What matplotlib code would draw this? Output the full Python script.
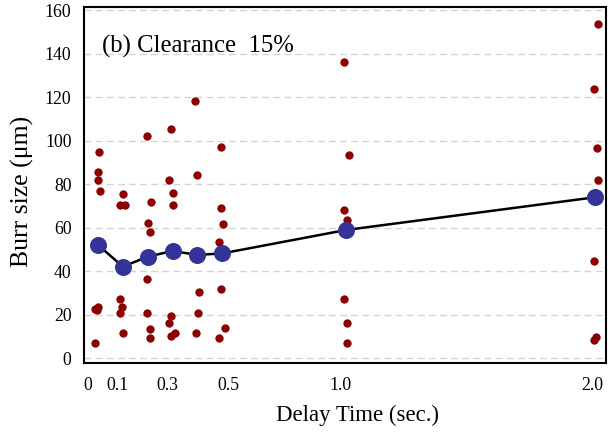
import matplotlib
matplotlib.use("Agg")
import matplotlib.pyplot as plt

# Mean burr size for each delay time
delay_times = [0.0, 0.1, 0.2, 0.3, 0.4, 0.5, 1.0, 2.0]
mean_burr = [52, 42, 46.6, 49.2, 47.4, 48.1, 58.9, 73.9]

# Individual measurements (delay time with a small spread, burr size)
sample_x = [
    0.003, 0.001, 0.001, 0.008, -0.012, -0.004, 0.0, -0.012,
    0.102, 0.088, 0.108, 0.088, 0.096, 0.088, 0.102,
    0.196, 0.212, 0.203, 0.209, 0.196, 0.196, 0.209, 0.209,
    0.294, 0.287, 0.301, 0.303, 0.294, 0.287, 0.310, 0.294,
    0.390, 0.397, 0.408, 0.404, 0.394,
    0.494, 0.494, 0.504, 0.488, 0.494, 0.511, 0.488,
    0.991, 1.010, 0.991, 1.003, 0.991, 1.003, 1.003,
    2.012, 1.998, 2.007, 2.012, 1.998, 2.005, 1.998,
]
sample_burr = [
    94.9, 85.7, 81.8, 76.9, 22.4, 22.0, 23.4, 6.7,
    75.4, 70.3, 70.3, 27.1, 23.6, 20.5, 11.6,
    102.0, 71.9, 62.2, 58.1, 36.5, 20.5, 13.3, 9.0,
    105.1, 81.8, 76.1, 70.3, 19.3, 16.2, 11.6, 10.1,
    118.3, 84.1, 30.2, 20.5, 11.6,
    97.2, 69.1, 61.5, 53.5, 31.6, 13.9, 9.0,
    136.2, 93.3, 68.0, 63.4, 27.0, 16.0, 7.0,
    153.7, 123.5, 96.4, 81.8, 44.7, 9.8, 8.3,
]

# Tick labels sit where the original figure put them
xtick_pos = [-0.040, 0.080, 0.278, 0.523, 0.977, 1.988]
xtick_labels = ["0", "0.1", "0.3", "0.5", "1.0", "2.0"]
ytick_vals = list(range(0, 161, 20))

plt.rcParams["font.family"] = ["Liberation Serif", "DejaVu Serif"]

fig = plt.figure(figsize=(6.11, 4.32), dpi=100)
ax = fig.add_axes([0.1375, 0.1597, 0.8543, 0.8241])

# Horizontal dashed grid
for y in ytick_vals:
    ax.axhline(y, color="#d4d4d4", linewidth=1.0, linestyle=(0, (5, 3)), zorder=0)

ax.scatter(sample_x, sample_burr, s=36, color="#8b0000", zorder=2, linewidths=0)
ax.plot(delay_times, mean_burr, color="black", linewidth=1.8, zorder=3)
ax.scatter(delay_times, mean_burr, s=150, color="#333399", zorder=4, linewidths=0)

ax.set_xlim(-0.0563, 2.0443)
ax.set_ylim(-2.3, 161.4)
ax.set_xticks(xtick_pos)
ax.set_xticklabels(xtick_labels)
ax.set_yticks(ytick_vals)
ax.tick_params(length=0, labelsize=12.8, pad=9)
ax.tick_params(axis="x", pad=10)

for spine in ax.spines.values():
    spine.set_linewidth(1.5)
    spine.set_color("black")

ax.set_xlabel("Delay Time (sec.)", fontsize=16.4)
ax.xaxis.set_label_coords(0.523, -0.118)
ax.set_ylabel("Burr size (\u03bcm)", fontsize=18.5)
ax.yaxis.set_label_coords(-0.096, 0.483)
ax.text(0.034, 0.89, "(b) Clearance  15%", transform=ax.transAxes,
        fontsize=17.8, ha="left", va="center")

fig.savefig("out.png", dpi=100)
